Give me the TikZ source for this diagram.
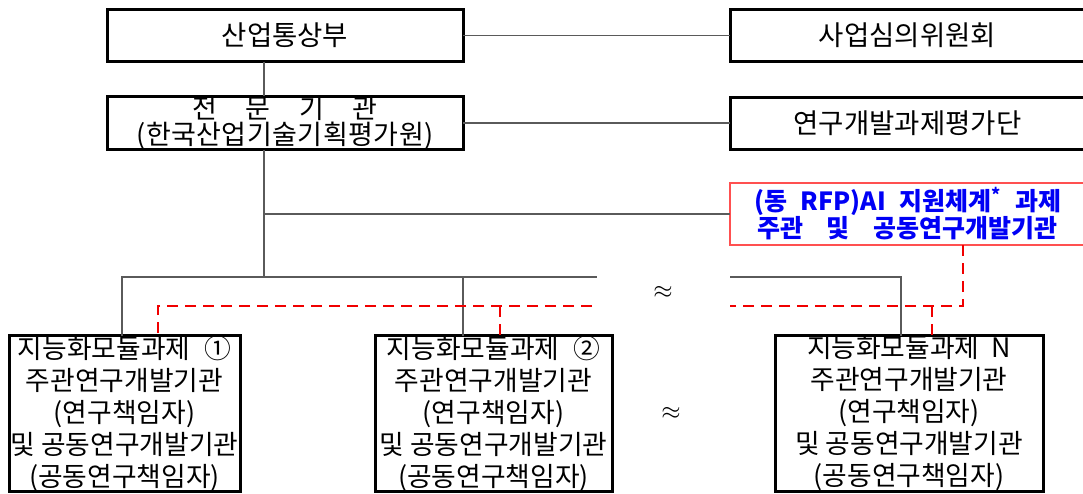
\documentclass[tikz,border=0pt]{standalone}
\usepackage{fontspec}
\setmainfont{Noto Sans CJK KR}
\definecolor{redline}{RGB}{255,80,80}
\definecolor{dashred}{RGB}{240,0,0}
\definecolor{txtblue}{RGB}{0,0,245}
\definecolor{conn}{RGB}{90,90,90}
\begin{document}
\begin{tikzpicture}[x=1pt,y=-1pt,
  box/.style={draw, line width=3pt, inner sep=0pt, outer sep=0pt, align=center,
    font=\fontsize{27.5}{29}\selectfont},
  tbox/.style={box, minimum width=356pt, minimum height=52pt},
  subbox/.style={box, minimum height=155pt, font=\fontsize{26.8}{32}\selectfont},
  aibox/.style={draw=redline, line width=1.5pt, inner sep=0pt, outer sep=0pt, align=center,
    minimum width=355pt, minimum height=62pt, text=txtblue,
    font=\fontsize{25}{27}\selectfont\bfseries},
  link/.style={draw=conn, line width=1.2pt},
  rdash/.style={draw=dashred, line width=2pt, dash pattern=on 11pt off 7pt},
  approx/.style={inner sep=0pt, font=\fontsize{23}{23}\selectfont}
]
\useasboundingbox (0,0) rectangle (1083,493);

\node[tbox] (mot) at (285,35.5) {산업통상부};
\node[tbox, minimum width=355pt] (sim) at (907.5,35.5) {사업심의위원회};
\node[tbox, font=\fontsize{27}{23}\selectfont] (jm) at (285,123) {\makebox[185pt][s]{전\hfil 문\hfil 기\hfil 관}\\\makebox[297pt][s]{(\hfil 한\hfil 국\hfil 산\hfil 업\hfil 기\hfil 술\hfil 기\hfil 획\hfil 평\hfil 가\hfil 원\hfil )}};
\node[tbox, minimum width=355pt] (pyg) at (907.5,123) {연구개발과제평가단};
\node[aibox] (ai) at (907.5,214) {\makebox[307pt][s]{(동 RFP)AI 지원체계\textsuperscript{*} 과제}\\\makebox[300pt][s]{주관 및 공동연구개발기관}};

\node[subbox, minimum width=231pt] (b1) at (124.5,413.5) {지능화모듈과제\hspace{14pt}①\\주관연구개발기관\\(연구책임자)\\및 공동연구개발기관\\(공동연구책임자)};
\node[subbox, minimum width=237pt] (b2) at (493.5,413.5) {지능화모듈과제\hspace{14pt}②\\주관연구개발기관\\(연구책임자)\\및 공동연구개발기관\\(공동연구책임자)};
\node[subbox, minimum width=268pt] (bN) at (909,413.5) {지능화모듈과제\hspace{12pt}N\\주관연구개발기관\\(연구책임자)\\및 공동연구개발기관\\(공동연구책임자)};

\node[approx] (ap1) at (663,292) {$\approx$};
\node[approx] (ap2) at (671,413) {$\approx$};

\coordinate (spine) at (264,0);
\coordinate (bus) at (0,277);
\coordinate (busA) at (597,277);
\coordinate (busB) at (730,277);
\coordinate (dl) at (0,306);
\coordinate (dashA) at (592,306);
\coordinate (dashB) at (730,306);

% solid connectors
\draw[link] (mot.east) -- (sim.west);
\draw[link] (jm.east) -- (pyg.west);
\draw[link] (mot.south -| spine) -- (jm.north -| spine);
\draw[link] (jm.south -| spine) -- (spine |- bus);
\draw[link] (ai.west -| spine) -- (ai.west);
\draw[link] ([xshift=-2.5pt]b1.north) |- (busA);
\draw[link] (busB) -| ([xshift=-8pt]bN.north);
\draw[link] ([xshift=-30.5pt]b2.north) -- ([xshift=-30.5pt]b2.north |- bus);

% dashed connectors
\draw[rdash] ([xshift=55.5pt]ai.south) |- (dashB);
\draw[rdash] (dashA) -| ([xshift=33.5pt]b1.north);
\draw[rdash] ([xshift=6.5pt]b2.north |- dl) -- ([xshift=6.5pt]b2.north);
\draw[rdash] ([xshift=23pt]bN.north |- dl) -- ([xshift=23pt]bN.north);
\end{tikzpicture}
\end{document}
